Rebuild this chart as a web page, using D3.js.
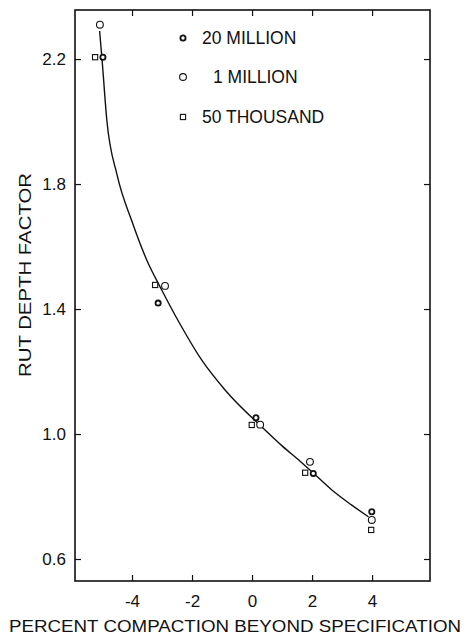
<!DOCTYPE html>
<html>
<head>
<meta charset="utf-8">
<script src="https://cdn.jsdelivr.net/npm/d3@7"></script>
<style>
  html, body { margin: 0; padding: 0; background: #fff; }
  svg { display: block; }
  text { font-family: "Liberation Sans", Arial, Helvetica, sans-serif; fill: #111; }
</style>
</head>
<body>
<script>
// ---- data ----
const xTicks = [-4, -2, 0, 2, 4];
const yTicks = [0.6, 1.0, 1.4, 1.8, 2.2];
const yTickLabels = ["0.6", "1.0", "1.4", "1.8", "2.2"];
const seriesNames = ["20 MILLION", "1 MILLION", "50 THOUSAND"];

const x20M = [-4.97, -3.13, 0.13, 2.04, 3.99];
const y20M = [2.206, 1.419, 1.052, 0.874, 0.751];
const x1M  = [-5.07, -2.90, 0.27, 1.93, 3.99];
const y1M  = [2.310, 1.474, 1.030, 0.911, 0.725];
const x50K = [-5.23, -3.23, -0.01, 1.77, 3.97];
const y50K = [2.206, 1.477, 1.029, 0.876, 0.693];

const curveX = [-5.08, -5.0, -4.84, -4.5, -4.0, -3.51, -3.01, -2.4, -1.68, -0.9, 0.32, 1.0, 1.6, 1.93, 2.66, 3.3, 3.88];
const curveY = [2.29, 2.2, 2.005, 1.83, 1.68, 1.557, 1.461, 1.352, 1.237, 1.141, 1.023, 0.962, 0.913, 0.885, 0.821, 0.774, 0.735];

// ---- layout ----
const W = 467, H = 638;
const L = 75, R = 430, T = 10, B = 581;

const svg = d3.select("body").append("svg").attr("width", W).attr("height", H);

const x = d3.scaleLinear().domain([-5.9, 5.93]).range([L, R]);
const y = d3.scaleLinear().domain([0.5296, 2.357]).range([B, T]);

// frame
svg.append("rect").attr("x", L).attr("y", T).attr("width", R - L).attr("height", B - T)
  .attr("fill", "none").attr("stroke", "#111").attr("stroke-width", 1.6);

const tickLen = 6;
// axes (inward ticks)
const axB = svg.append("g").attr("transform", `translate(0,${B})`)
  .call(d3.axisBottom(x).tickValues(xTicks).tickSize(-tickLen).tickPadding(tickLen + 8).tickFormat(d3.format("d")));
const axT = svg.append("g").attr("transform", `translate(0,${T})`)
  .call(d3.axisTop(x).tickValues(xTicks).tickSize(-tickLen).tickFormat(""));
const axL = svg.append("g").attr("transform", `translate(${L},0)`)
  .call(d3.axisLeft(y).tickValues(yTicks).tickSize(-tickLen).tickPadding(tickLen + 3).tickFormat((d, i) => yTickLabels[i]));
const axR = svg.append("g").attr("transform", `translate(${R},0)`)
  .call(d3.axisRight(y).tickValues(yTicks).tickSize(-tickLen).tickFormat(""));

[axB, axT, axL, axR].forEach(g => {
  g.select(".domain").remove();
  g.selectAll(".tick line").attr("stroke", "#111").attr("stroke-width", 1.2);
  g.selectAll(".tick text").attr("fill", "#111")
    .style("font-family", '"Liberation Sans", Arial, sans-serif').style("font-size", "17px");
});
axB.selectAll(".tick text").text(d => d < 0 ? "-" + Math.abs(d) : String(d));

// axis titles
svg.append("text").attr("x", 235).attr("y", 632).attr("text-anchor", "middle")
  .attr("textLength", 452).attr("lengthAdjust", "spacingAndGlyphs")
  .style("font-size", "17px").text("PERCENT COMPACTION BEYOND SPECIFICATION");
svg.append("text").attr("transform", "translate(31,275) rotate(-90)").attr("text-anchor", "middle")
  .attr("textLength", 204).attr("lengthAdjust", "spacingAndGlyphs")
  .style("font-size", "17px").text("RUT DEPTH FACTOR");

// fitted curve
const line = d3.line().x(d => x(d[0])).y(d => y(d[1])).curve(d3.curveMonotoneX);
svg.append("path").datum(curveX.map((v, i) => [v, curveY[i]]))
  .attr("d", line).attr("fill", "none").attr("stroke", "#111").attr("stroke-width", 1.4);

// markers
function drawMarker(g, type, cx, cy) {
  if (type === 0) {
    g.append("circle").attr("cx", cx).attr("cy", cy).attr("r", 2.6)
      .attr("fill", "#fff").attr("stroke", "#111").attr("stroke-width", 1.8);
  } else if (type === 1) {
    g.append("circle").attr("cx", cx).attr("cy", cy).attr("r", 3.4)
      .attr("fill", "#fff").attr("stroke", "#111").attr("stroke-width", 1.1);
  } else {
    g.append("rect").attr("x", cx - 2.6).attr("y", cy - 2.6).attr("width", 5.2).attr("height", 5.2)
      .attr("fill", "#fff").attr("stroke", "#111").attr("stroke-width", 1.1);
  }
}
const pts = svg.append("g");
const series = [[x20M, y20M], [x1M, y1M], [x50K, y50K]];
series.forEach((s, k) => {
  s[0].forEach((xv, i) => drawMarker(pts, k, x(xv), y(s[1][i])));
});

// legend
const leg = svg.append("g");
const legY = [38, 77, 117];
const legTextX = [202, 213, 202];
seriesNames.forEach((name, k) => {
  drawMarker(leg, k, 183, legY[k]);
  leg.append("text").attr("x", legTextX[k]).attr("y", legY[k] + 6)
    .style("font-size", "17.5px").text(name);
});
</script>
</body>
</html>
